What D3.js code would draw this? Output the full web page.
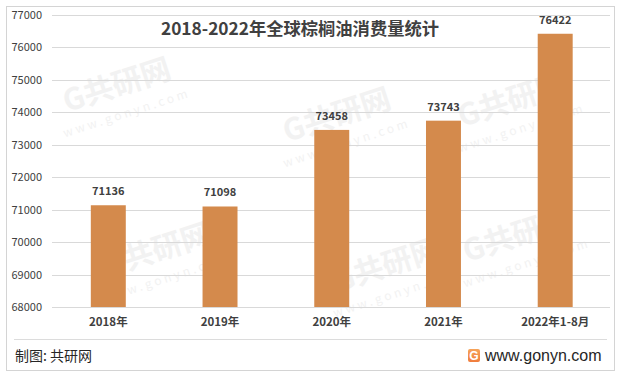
<!DOCTYPE html>
<html><head><meta charset="utf-8">
<script src="https://cdn.jsdelivr.net/npm/d3@7"></script>
<style>body{margin:0;background:#fff}svg{display:block}</style>
</head><body>
<svg id="c" width="620" height="377"></svg>
<script>
const categories = ["2018年","2019年","2020年","2021年","2022年1-8月"];
const values = [71136, 71098, 73458, 73743, 76422];
const yTicks = [68000,69000,70000,71000,72000,73000,74000,75000,76000,77000];
const title = "2018-2022年全球棕榈油消费量统计";

const svg = d3.select("#c");
const font = "'Noto Sans CJK SC','Microsoft YaHei',sans-serif";

// outer border
svg.append("rect").attr("x",6.5).attr("y",6.5).attr("width",608).attr("height",364)
  .attr("fill","#fff").attr("stroke","#d4d4d4");

// watermarks (faint)
const wm = svg.append("g").attr("fill","#f2f2f2").attr("font-family",font).attr("font-weight","bold");
[[120,95],[340,125],[515,110],[160,260],[390,275],[520,245]].forEach(([x,y])=>{
  wm.append("text").attr("transform",`translate(${x},${y}) rotate(-18)`).attr("font-size",30).attr("text-anchor","middle").text("G共研网");
  wm.append("text").attr("transform",`translate(${x+8},${y+22}) rotate(-18)`).attr("font-size",12).attr("text-anchor","middle").attr("letter-spacing",3).attr("font-weight","normal").text("www.gonyn.com");
});

const x = d3.scaleBand().domain(categories).range([52.5,611]).paddingInner(0.687).paddingOuter(0.343);
const y = d3.scaleLinear().domain([68000,77000]).range([307,15]);

// gridlines
svg.append("g").selectAll("line").data(yTicks).join("line")
  .attr("x1",52).attr("x2",610).attr("y1",d=>Math.round(y(d))+0.5).attr("y2",d=>Math.round(y(d))+0.5)
  .attr("stroke","#d9d9d9").attr("stroke-width",1);

// y labels
const yAxis = d3.axisLeft(y).tickValues(yTicks).tickSize(0).tickPadding(0).tickFormat(d3.format("d"));
const ya = svg.append("g").attr("transform","translate(42,0)").call(yAxis);
ya.select(".domain").remove();
ya.selectAll("text").attr("font-family",font).attr("font-size",11).attr("fill","#404040");

// bars
svg.append("g").selectAll("rect").data(values).join("rect")
  .attr("x",(d,i)=>x(categories[i])).attr("width",x.bandwidth())
  .attr("y",d=>y(d)).attr("height",d=>y(68000)-y(d)).attr("fill","#D48A4C");

// value labels
svg.append("g").selectAll("text").data(values).join("text")
  .attr("x",(d,i)=>x(categories[i])+x.bandwidth()/2).attr("y",d=>y(d)-10)
  .attr("text-anchor","middle").attr("font-family",font).attr("font-size",11).attr("font-weight","bold")
  .attr("fill","#404040").text(d=>d);

// x labels
const xAxis = d3.axisBottom(x).tickSize(0).tickPadding(0);
const xa = svg.append("g").attr("transform","translate(0,318)").call(xAxis);
xa.select(".domain").remove();
xa.selectAll("text").attr("font-family",font).attr("font-size",11.5).attr("font-weight","bold").attr("fill","#404040");

// title
svg.append("text").attr("x",300).attr("y",35).attr("text-anchor","middle")
  .attr("font-family",font).attr("font-size",17.3).attr("font-weight","bold").attr("fill","#404040").text(title);

// footer separator
svg.append("line").attr("x1",14).attr("x2",607).attr("y1",339.5).attr("y2",339.5).attr("stroke","#dcdcdc");
svg.append("text").attr("x",15).attr("y",361).attr("font-family",font).attr("font-size",14).attr("fill","#262626").text("制图: 共研网");

// logo
const lg = svg.append("g").attr("transform","translate(468,349)");
const grad = svg.append("defs").append("linearGradient").attr("id","lg").attr("x1",0).attr("y1",0).attr("x2",0).attr("y2",1);
grad.append("stop").attr("offset","0%").attr("stop-color","#f6a45a");
grad.append("stop").attr("offset","100%").attr("stop-color","#f07c3c");
lg.append("rect").attr("width",12).attr("height",13).attr("rx",2).attr("fill","url(#lg)");
lg.append("text").attr("x",6).attr("y",11).attr("text-anchor","middle").attr("font-family","Arial,sans-serif").attr("font-size",12).attr("font-weight","bold").attr("fill","#fff").text("G");
svg.append("text").attr("x",485).attr("y",361).attr("font-family","'Liberation Sans',Arial,sans-serif").attr("font-size",16).attr("fill","#262626").text("www.gonyn.com");
</script>
</body></html>
